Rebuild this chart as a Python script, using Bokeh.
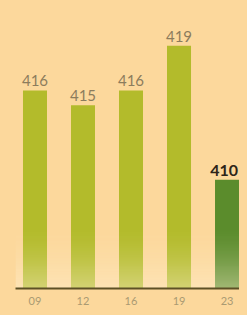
import numpy as np
from bokeh.plotting import figure
from bokeh.models import ColumnDataSource, FixedTicker, Range1d, GlobalInlineStyleSheet
from bokeh.core.properties import value
from bokeh.embed import file_html
from bokeh.resources import INLINE

years = ["09", "12", "16", "19", "23"]
scores = [416, 415, 416, 419, 410]
highlight = [False, False, False, False, True]

BG = "#fcd89c"
LIGHT = "#b3bb2b"
DARK = "#5b8c2c"

xs = list(range(len(years)))
colors = [DARK if h else LIGHT for h in highlight]

x0, x1 = -0.406, 4.26
y0, y1 = 402.7, 421.5

p = figure(width=239, height=307, output_backend="svg", toolbar_location=None,
           x_range=Range1d(x0, x1), y_range=Range1d(y0, y1),
           min_border_left=15, min_border_right=0, min_border_top=8, min_border_bottom=17,
           background_fill_color=BG, border_fill_color=BG, outline_line_color=None)
p.stylesheets = [GlobalInlineStyleSheet(css="html, body { background: %s; }" % BG)]
p.grid.visible = False
p.yaxis.visible = False

src = ColumnDataSource(dict(x=xs, top=scores, color=colors))
p.vbar(x="x", top="top", bottom=y0, width=0.5, fill_color="color", line_color=None, source=src)

# soft glow at bottom
n = 64
alpha = (np.linspace(0, 1, n) ** 1.5)[::-1] * 110
img = np.zeros((n, 1), dtype=np.uint32)
view = img.view(dtype=np.uint8).reshape((n, 1, 4))
view[:, 0, 0] = 255
view[:, 0, 1] = 242
view[:, 0, 2] = 212
view[:, 0, 3] = alpha.astype(np.uint8)
p.image_rgba(image=[img], x=x0, y=y0, dw=x1 - x0, dh=4.2)

normal = ColumnDataSource(dict(x=[x for x, h in zip(xs, highlight) if not h],
                               y=[s for s, h in zip(scores, highlight) if not h],
                               t=[str(s) for s, h in zip(scores, highlight) if not h]))
bold = ColumnDataSource(dict(x=[x for x, h in zip(xs, highlight) if h],
                             y=[s for s, h in zip(scores, highlight) if h],
                             t=[str(s) for s, h in zip(scores, highlight) if h]))
p.text(x="x", y="y", text="t", source=normal, text_align="center", text_baseline="bottom",
       y_offset=-4, text_font=value("Lato"), text_font_size="15px", text_color="#8c7c5c")
p.text(x="x", y="y", text="t", source=bold, text_align="right", text_baseline="bottom",
       x_offset=11, y_offset=-4, text_font=value("Lato"), text_font_style="bold",
       text_font_size="16px", text_color="#2e2418")

p.xaxis.ticker = FixedTicker(ticks=xs)
p.xaxis.major_label_overrides = {i: y for i, y in zip(xs, years)}
p.xaxis.axis_line_color = "#5d5025"
p.xaxis.axis_line_width = 2
p.xaxis.major_tick_line_color = None
p.xaxis.minor_tick_line_color = None
p.xaxis.major_label_standoff = 2
p.xaxis.major_label_text_font = "Lato"
p.xaxis.major_label_text_font_size = "11px"
p.xaxis.major_label_text_color = "#aa9a72"

open("out.html", "w").write(file_html(p, INLINE))
